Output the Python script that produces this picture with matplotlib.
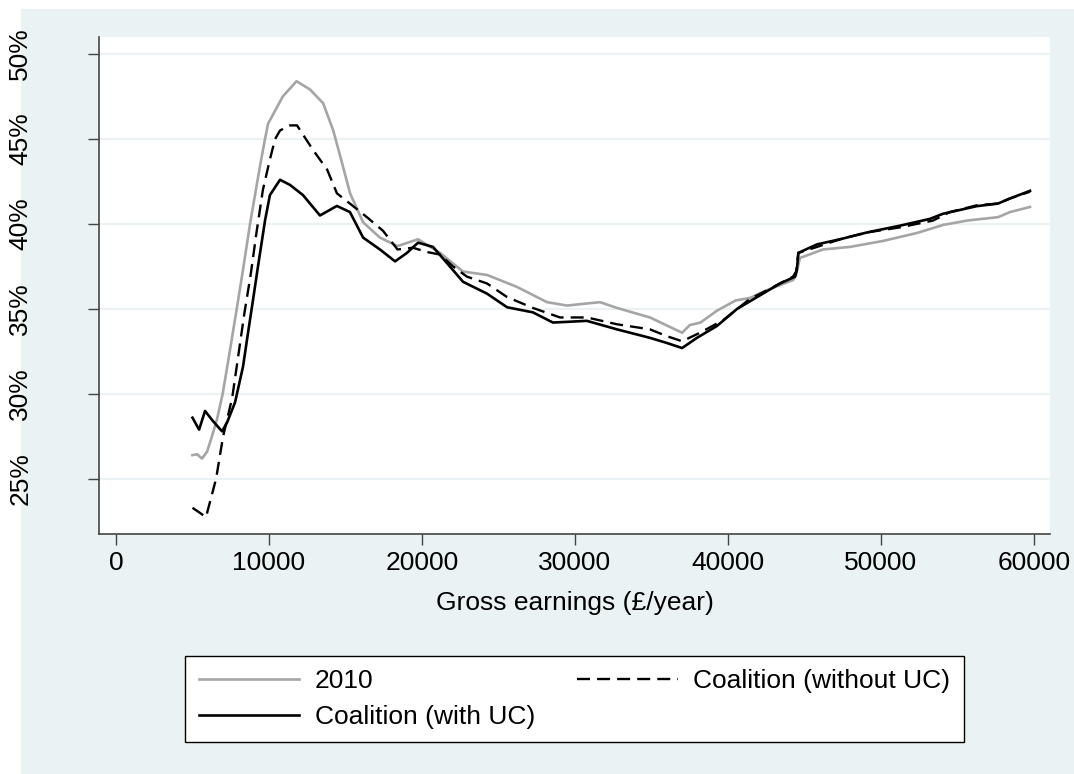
import matplotlib
matplotlib.use("Agg")
from matplotlib import pyplot as plt
from matplotlib.patches import Rectangle

plt.rcParams["font.family"] = ["Liberation Sans", "DejaVu Sans"]

# effective tax rate (%) by gross earnings
earn_2010 = [5000, 5300, 5620, 5950, 6270, 6600, 6970, 7400, 7890, 8300, 8760,
             9410, 9740, 9940, 10900, 11800, 12700, 13540, 14200, 14770, 15300,
             16150, 17250, 18400, 19740, 21180, 22680, 24250, 26200, 28170,
             29480, 31630, 32740, 34900, 37000, 37500, 38200, 39280, 40500,
             41440, 42550, 44250, 44450, 44700, 46210, 47970, 50130, 52350,
             54050, 55620, 57650, 58430, 59740]
rate_2010 = [26.4, 26.45, 26.2, 26.6, 27.5, 28.5, 30.0, 32.3, 35.0, 37.3, 40.0,
             43.4, 45.0, 45.9, 47.5, 48.4, 47.9, 47.1, 45.5, 43.6, 41.8,
             40.1, 39.2, 38.7, 39.1, 38.3, 37.2, 37.0, 36.3, 35.4,
             35.2, 35.4, 35.06, 34.5, 33.6, 34.05, 34.2, 34.9, 35.5,
             35.65, 36.1, 36.7, 37.0, 38.0, 38.5, 38.65, 39.0, 39.47,
             39.94, 40.2, 40.4, 40.7, 41.0]

earn_no_uc = [5000, 5490, 5880, 6540, 7000, 7600, 8000, 8400, 8800, 9200, 9600,
              10060, 10400, 10720, 11370, 11830, 12880, 13800, 14440, 15290,
              16400, 17450, 18400, 19410, 20330, 21180, 22030, 22940, 24250,
              25560, 27250, 29020, 30780, 32740, 34900, 36000, 37000, 38170,
              39700, 41440, 42550, 44250, 44450, 44600, 45820, 47320, 49080,
              51240, 53400, 54500, 56270, 57650, 58430, 59740]
rate_no_uc = [23.3, 23.0, 22.75, 25.0, 27.5, 29.8, 32.3, 34.8, 37.0, 39.6, 42.0,
              43.8, 45.0, 45.5, 45.8, 45.8, 44.35, 43.2, 41.8, 41.2,
              40.4, 39.6, 38.5, 38.6, 38.35, 38.2, 37.5, 36.9, 36.5,
              35.7, 35.06, 34.5, 34.5, 34.1, 33.8, 33.4, 33.1, 33.6,
              34.35, 35.6, 36.1, 36.9, 37.2, 38.3, 38.65, 39.1, 39.5,
              39.8, 40.2, 40.7, 41.1, 41.2, 41.5, 41.9]

earn_uc = [5000, 5430, 5820, 6340, 6930, 7250, 7780, 8300, 8630, 8950, 9280,
           9740, 10060, 10720, 11370, 12220, 13330, 14440, 15290, 16150, 17250,
           18240, 19020, 19740, 20720, 21630, 22680, 24250, 25560, 27250,
           28560, 30780, 32740, 34900, 36000, 37000, 37970, 39280, 40590,
           42090, 43400, 44380, 44500, 44600, 45820, 47320, 49080, 51240,
           53200, 54050, 56270, 57650, 58430, 59740]
rate_uc = [28.6, 27.9, 29.0, 28.4, 27.8, 28.3, 29.5, 31.6, 33.6, 35.5, 37.5,
           40.2, 41.7, 42.6, 42.3, 41.7, 40.5, 41.06, 40.7, 39.2, 38.5,
           37.8, 38.3, 38.9, 38.65, 37.7, 36.6, 35.9, 35.1, 34.8,
           34.2, 34.3, 33.8, 33.3, 33.0, 32.7, 33.3, 34.0, 35.0,
           35.8, 36.5, 36.9, 37.3, 38.3, 38.8, 39.1, 39.5, 39.9,
           40.3, 40.6, 41.05, 41.2, 41.5, 41.95]

xticks = [0, 10000, 20000, 30000, 40000, 50000, 60000]
yticks = [25, 30, 35, 40, 45, 50]
ytick_labels = ["25%", "30%", "35%", "40%", "45%", "50%"]

bg = "#EAF2F3"
W, H = 1074, 774

fig = plt.figure(figsize=(W / 100, H / 100), dpi=100)
fig.patches.append(Rectangle((21 / W, 0), 1, 1 - 9 / H, transform=fig.transFigure,
                             facecolor=bg, edgecolor="none", zorder=-10))
ax = fig.add_axes([99 / W, 1 - 534 / H, (1050 - 99) / W, (534 - 37) / H])
ax.set_facecolor("white")

l1, = ax.plot(earn_2010, rate_2010, color="#A5A5A5", lw=1.9, label="2010")
l3, = ax.plot(earn_no_uc, rate_no_uc, color="black", lw=1.7, dashes=(5.5, 3),
              label="Coalition (without UC)")
l2, = ax.plot(earn_uc, rate_uc, color="black", lw=1.9, label="Coalition (with UC)")

ax.set_xlim(-1111, 61046)
ax.set_ylim(21.76, 51.0)
ax.set_xticks(xticks)
ax.set_xticklabels([str(v) for v in xticks], fontsize=19)
ax.set_yticks(yticks)
ax.set_yticklabels(ytick_labels, fontsize=19, rotation=90, va="center")
ax.grid(axis="y", color=bg, lw=1.5)
ax.set_axisbelow(True)

for s in ["top", "right"]:
    ax.spines[s].set_visible(False)
for s in ["left", "bottom"]:
    ax.spines[s].set_color("#444444")
    ax.spines[s].set_linewidth(1.2)
ax.tick_params(axis="x", length=8, width=1, color="#444444", pad=4)
ax.tick_params(axis="y", length=8, width=1, color="#444444", pad=40)

ax.set_xlabel("Gross earnings (£/year)", fontsize=19, labelpad=12)

leg = fig.legend(handles=[l1, l2, l3], loc="center",
                 bbox_to_anchor=(574.5 / W, 1 - 699 / H), ncol=2, fontsize=19,
                 frameon=True, fancybox=False, edgecolor="black",
                 facecolor="white", framealpha=1,
                 handlelength=3.8, handletextpad=0.6, columnspacing=1.6,
                 labelspacing=0.45, borderpad=0.5, borderaxespad=0)
leg.get_frame().set_linewidth(1.0)

fig.savefig("out.png", dpi=100)
